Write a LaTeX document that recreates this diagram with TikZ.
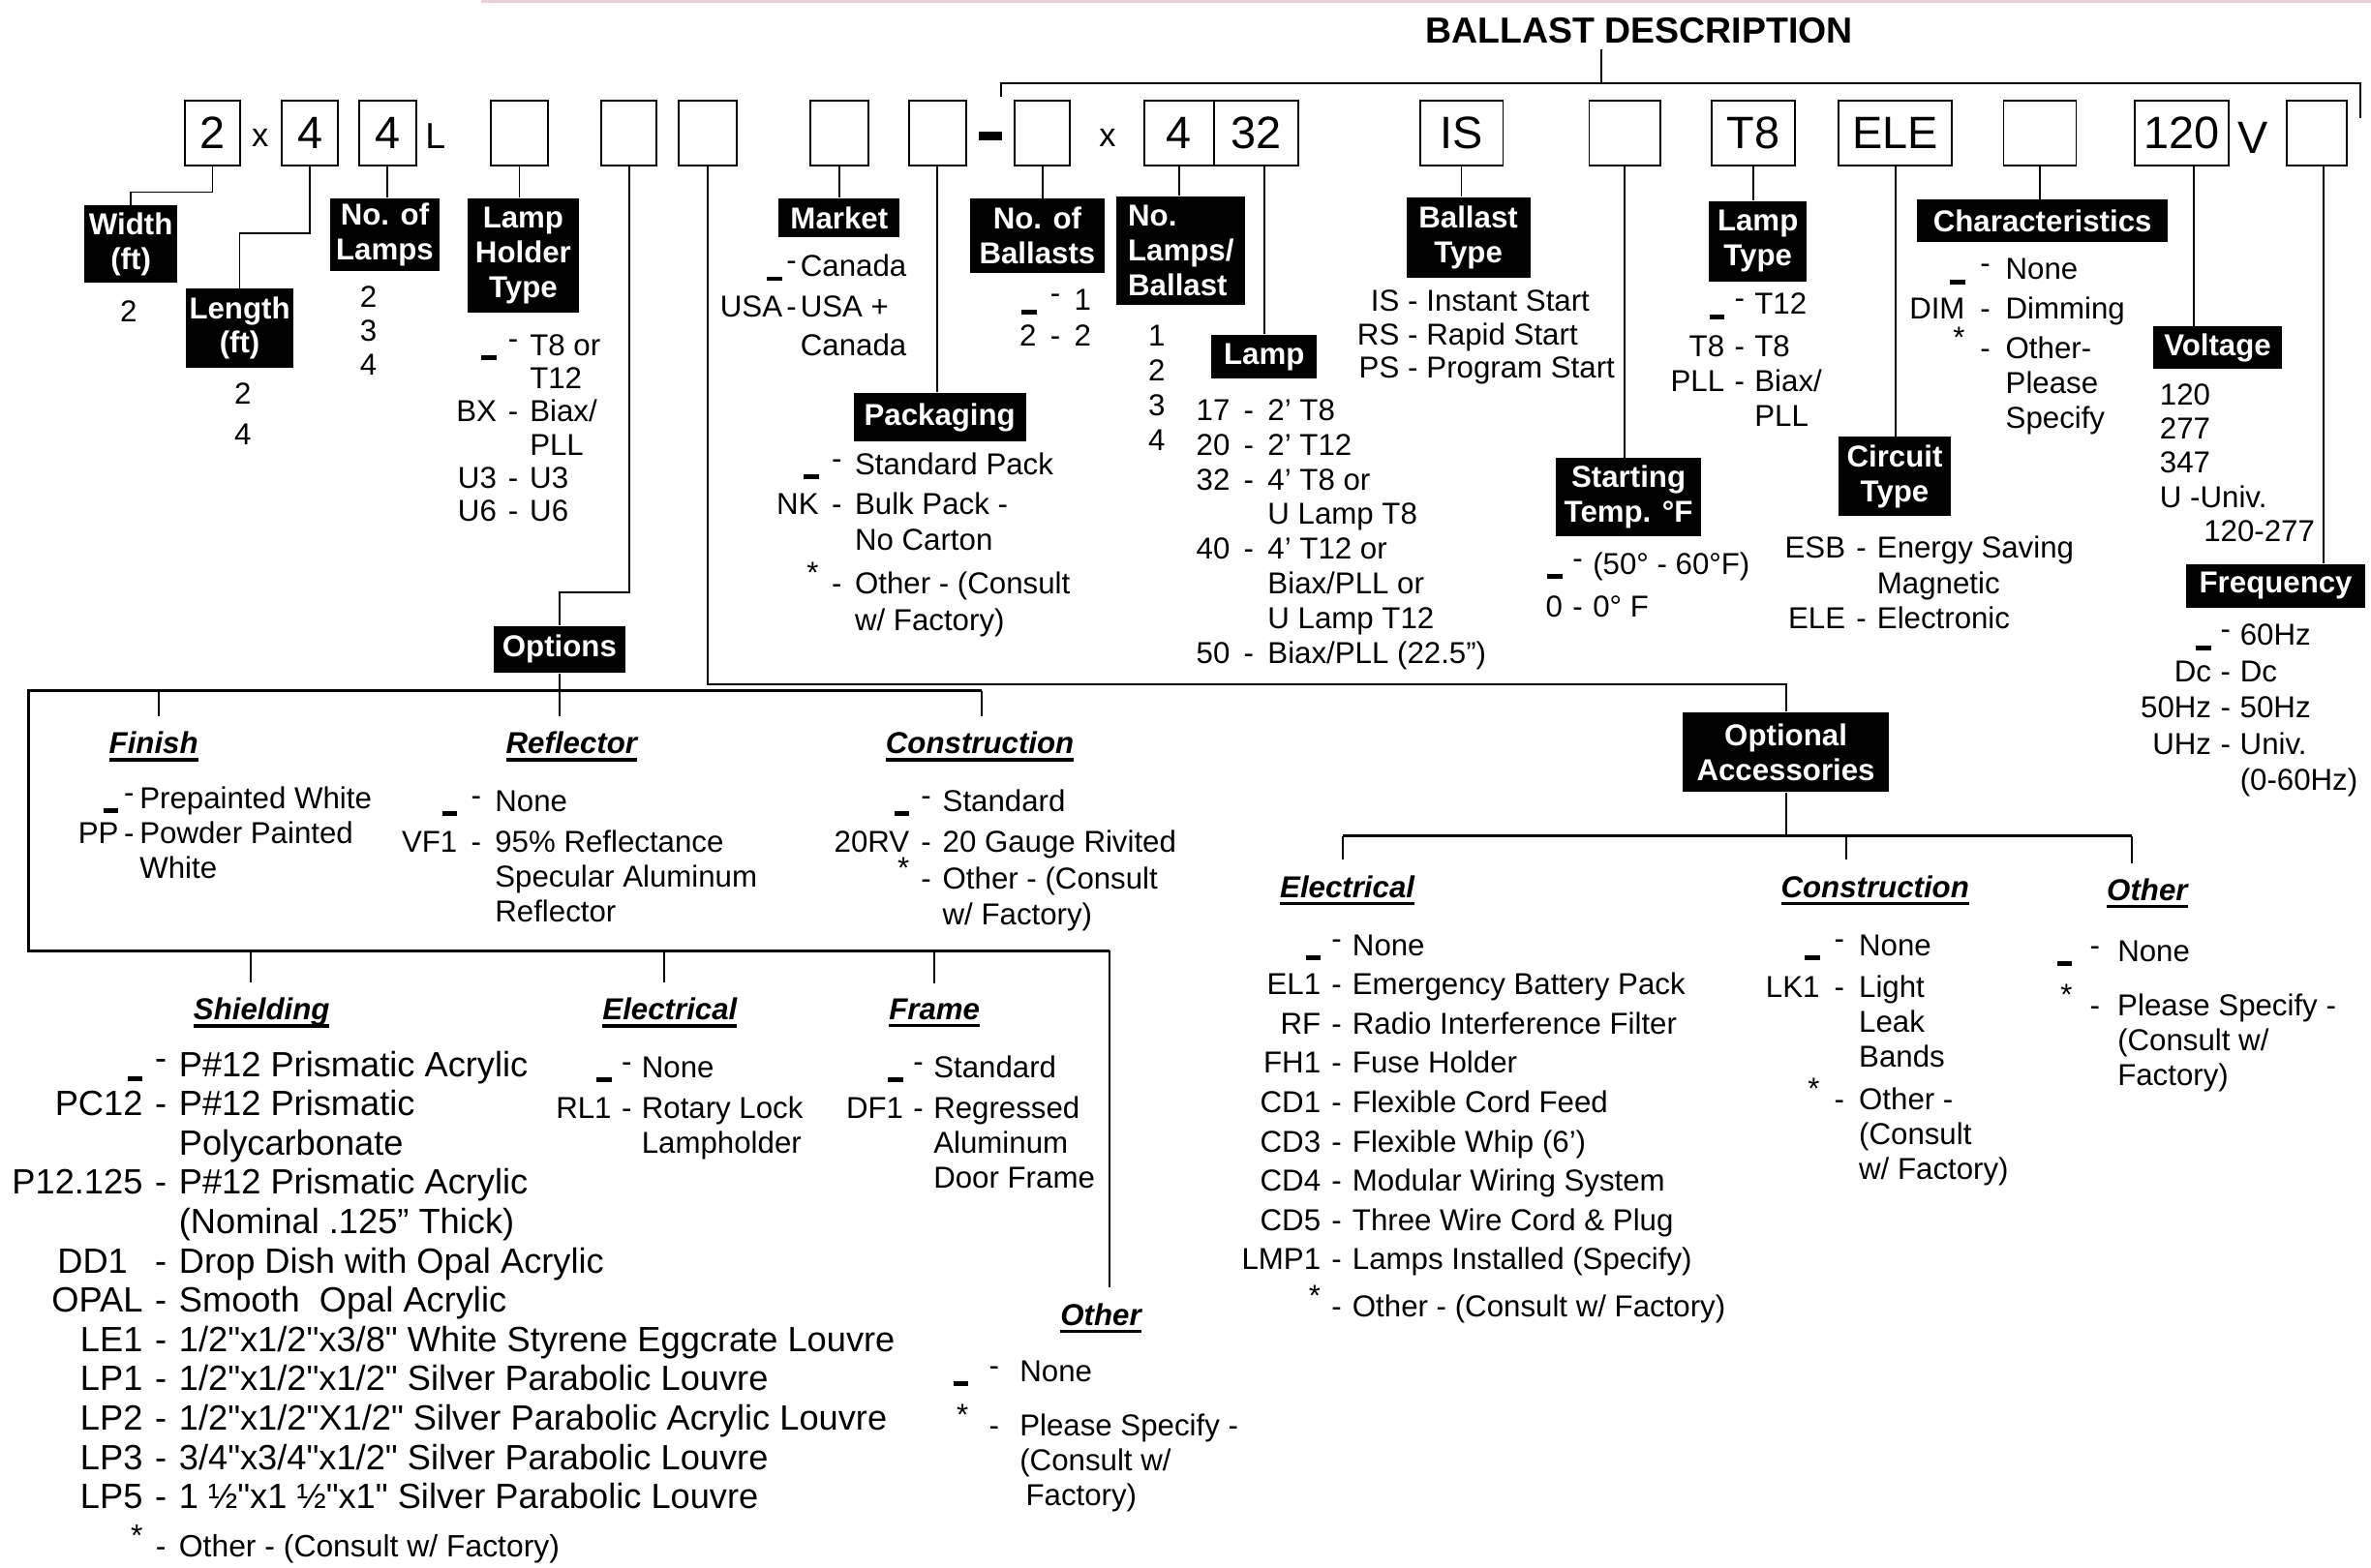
\documentclass[tikz,border=0pt]{standalone}
\usepackage{fontspec}
\setmainfont{Liberation Sans}[Ligatures=TeXOff]
\usetikzlibrary{positioning, calc}
\tikzset{>=latex}
\definecolor{pinkline}{RGB}{240,205,220}

\newlength{\dashw}
\newcommand{\blnk}{\rule[-1.5pt]{5pt}{1.6pt}}
\newcommand{\itm}[2]{\llap{#1\makebox[\dashw]{-}}#2}
\newcommand{\bitm}[1]{\llap{\blnk\makebox[\dashw]{\raisebox{2pt}{-}}}#1}
\newcommand{\sitm}[1]{\llap{\smash{\raisebox{3.5pt}{*}}\makebox[\dashw]{-}}#1}
\newcommand{\clist}[4][10]{\fontsize{#1}{#2}\selectfont\setlength{\dashw}{#3}\begin{tabular}[t]{@{}l@{}}#4\end{tabular}}
\newcommand{\ulthick}[1]{\setbox0=\hbox{#1}\rlap{\rule[-2.5pt]{\wd0}{1.1pt}}\box0}

\begin{document}
\begin{tikzpicture}
    [
        x=0.5pt, y=-0.5pt,
        codebox/.style={draw, line width=0.6pt, minimum height=21.5pt, inner sep=0pt, font=\fontsize{15}{15}\selectfont},
        tagbox/.style={fill=black, text=white, inner sep=1pt, align=center, font=\fontsize{10}{11.5}\selectfont\bfseries},
        hdr/.style={inner sep=5pt, font=\fontsize{10}{12}\selectfont\bfseries\itshape},
        vals/.style={anchor=base west, inner sep=0pt},
        nums/.style={anchor=base, inner sep=0pt},
        conn/.style={line width=0.6pt},
        bar/.style={line width=0.9pt},
    ]
  \useasboundingbox (0,0) rectangle (1568,1037);
  \draw[pinkline, line width=1.2pt] (318,1) -- (1568,1);

  % title and top bar
  \node[inner sep=2pt, font=\fontsize{12}{12}\selectfont\bfseries] (title) at (1084,20) {BALLAST DESCRIPTION};
  \coordinate (tst) at (1059,55);
  \coordinate (tbL) at (662,64);
  \coordinate (tbR) at (1561,78);

  % code boxes
  \node[codebox, minimum width=18.3pt] (bwid) at (140.5,88) {2};
  \node[font=\fontsize{11}{11}\selectfont] (xa) at (172,91) {x};
  \node[codebox, minimum width=18.5pt] (blen) at (205,88) {4};
  \node[codebox, minimum width=19pt] (bnum) at (256.3,88) {4};
  \node[font=\fontsize{12}{12}\selectfont] (lL) at (288,90) {L};
  \node[codebox, minimum width=18.8pt] (bhold) at (343.5,88) {};
  \node[codebox, minimum width=18.2pt] (bopt) at (416,88) {};
  \node[codebox, minimum width=19.2pt] (bacc) at (468,88) {};
  \node[codebox, minimum width=19.2pt] (bmkt) at (555.3,88) {};
  \node[codebox, minimum width=19pt] (bpack) at (620,88) {};
  \node[fill, minimum width=7.5pt, minimum height=2.8pt, inner sep=0pt] (dsh) at (655,90) {};
  \node[codebox, minimum width=18.3pt] (bbal) at (689.3,88) {};
  \node[font=\fontsize{11}{11}\selectfont] (xb) at (732.5,91) {x};
  \node[codebox, minimum width=22.8pt] (bperb) at (779.8,88) {4};
  \node[codebox, minimum width=28pt] (blamp) at (830.6,88) {32};
  \node[codebox, minimum width=27.5pt] (bbt) at (966.5,88) {IS};
  \node[codebox, minimum width=23.5pt] (bst) at (1074.5,88) {};
  \node[codebox, minimum width=27.5pt] (blt) at (1159.5,88) {T8};
  \node[codebox, minimum width=37.5pt] (bct) at (1253.5,88) {ELE};
  \node[codebox, minimum width=24pt] (bch) at (1349,88) {};
  \node[codebox, minimum width=31pt] (bvolt) at (1443,88) {120};
  \node[font=\fontsize{15}{15}\selectfont] (lV) at (1490,91) {V};
  \node[codebox, minimum width=20pt] (bfreq) at (1532,88) {};

  % black tags
  \node[tagbox, minimum width=30.5pt, minimum height=25.5pt] (lwid) at (86.5,161.5) {Width\\(ft)};
  \node[tagbox, minimum width=35.5pt, minimum height=26pt] (llen) at (158.5,217) {Length\\(ft)};
  \node[tagbox, minimum width=36pt, minimum height=24pt] (lnum) at (254.5,155) {No. of\\Lamps};
  \node[tagbox, minimum width=37pt, minimum height=38pt] (lhold) at (346,169) {Lamp\\Holder\\Type};
  \node[tagbox, minimum width=43.5pt, minimum height=15.5pt] (lopt) at (370,429.5) {Options};
  \node[tagbox, minimum width=40pt, minimum height=13pt] (lmkt) at (555,144) {Market};
  \node[tagbox, minimum width=57pt, minimum height=16pt] (lpack) at (621.5,276) {Packaging};
  \node[tagbox, minimum width=44.5pt, minimum height=24.5pt] (lbal) at (686,156) {No. of\\Ballasts};
  \node[tagbox, minimum width=42.5pt, minimum height=36pt, align=left] (lperb) at (781,166) {No.\\Lamps/\\Ballast};
  \node[tagbox, minimum width=35pt, minimum height=14.5pt] (llamp) at (836,236) {Lamp};
  \node[tagbox, minimum width=41pt, minimum height=26.5pt] (lbt) at (971,157) {Ballast\\Type};
  \node[tagbox, minimum width=48pt, minimum height=26pt] (lst) at (1077,329) {Starting\\Temp. °F};
  \node[tagbox, minimum width=32.5pt, minimum height=26.5pt] (llt) at (1162.5,159.5) {Lamp\\Type};
  \node[tagbox, minimum width=37pt, minimum height=26pt] (lct) at (1253,315) {Circuit\\Type};
  \node[tagbox, minimum width=83pt, minimum height=14pt] (lch) at (1350.75,146) {Characteristics};
  \node[tagbox, minimum width=42.5pt, minimum height=14pt] (lvolt) at (1466.5,230) {Voltage};
  \node[tagbox, minimum width=59pt, minimum height=14.5pt] (lfreq) at (1505,387.5) {Frequency};
  \node[tagbox, minimum width=68pt, minimum height=26.5pt] (lacc) at (1181,497.5) {Optional\\Accessories};

  % headings
  \node[hdr] (hfin) at (101.6,494) {\ulthick{Finish}};
  \node[hdr] (hrefl) at (378,494) {\ulthick{Reflector}};
  \node[hdr] (hcons) at (648,494) {\ulthick{Construction}};
  \node[hdr] (hshd) at (173,670) {\ulthick{Shielding}};
  \node[hdr] (helec) at (443,670) {\ulthick{Electrical}};
  \node[hdr] (hfrm) at (618,670) {\ulthick{Frame}};
  \node[hdr] (hoth) at (728,872) {\ulthick{Other}};
  \node[hdr] (haelec) at (891,589) {\ulthick{Electrical}};
  \node[hdr] (hacon) at (1240,589) {\ulthick{Construction}};
  \node[hdr] (haoth) at (1420,591) {\ulthick{Other}};

  % value lists
  \node[nums] (vwid) at (85,213) {2};
  \node[nums] (vlen) at (160.6,267.6) {\clist{13.25pt}{0pt}{2\\4}};
  \node[nums] (vnum) at (243.7,203.6) {\clist{11.2pt}{0pt}{2\\3\\4}};
  \node[vals] (vhold) at (350,235) {\clist{11pt}{11pt}{\bitm{T8 or}\\T12\\\itm{BX}{Biax/}\\PLL\\\itm{U3}{U3}\\\itm{U6}{U6}}};
  \node[vals] (vmkt) at (529,183) {\clist{12.5pt}{6pt}{\bitm{Canada}\\[1pt]\itm{USA}{USA +}\\Canada}};
  \node[vals] (vbal) at (710,205) {\clist{12pt}{12.5pt}{\bitm{1}\\\itm{2}{2}}};
  \node[nums] (vperb) at (765,229) {\clist{11.5pt}{0pt}{1\\2\\3\\4}};
  \node[vals] (vlamp) at (838,278) {\clist{11.5pt}{12.5pt}{\itm{17}{2’ T8}\\\itm{20}{2’ T12}\\\itm{32}{4’ T8 or}\\U Lamp T8\\\itm{40}{4’ T12 or}\\Biax/PLL or\\U Lamp T12\\\itm{50}{Biax/PLL (22.5”)}}};
  \node[vals] (vpack) at (565,314) {\clist{12pt}{12pt}{\bitm{Standard Pack}\\[1pt]\itm{NK}{Bulk Pack -}\\No Carton\\[2.5pt]\sitm{Other - (Consult}\\w/ Factory)}};
  \node[vals] (vbt) at (943,206) {\clist{11pt}{9pt}{\itm{IS}{Instant Start}\\\itm{RS}{Rapid Start}\\\itm{PS}{Program Start}}};
  \node[vals] (vst) at (1053,380) {\clist{14pt}{10pt}{\bitm{(50° - 60°F)}\\\itm{0}{0° F}}};
  \node[vals] (vlt) at (1160,208) {\clist{11.5pt}{10pt}{\bitm{T12}\\[2.5pt]\itm{T8}{T8}\\\itm{PLL}{Biax/}\\PLL}};
  \node[vals] (vch) at (1326,185) {\clist{11.5pt}{13.5pt}{\bitm{None}\\[1.5pt]\itm{DIM}{Dimming}\\[1.5pt]\sitm{Other-}\\Please\\Specify}};
  \node[vals] (vct) at (1241,369) {\clist{11.75pt}{10.5pt}{\itm{ESB}{Energy Saving}\\Magnetic\\\itm{ELE}{Electronic}}};
  \node[vals] (vvolt) at (1428,268) {\clist{11.25pt}{0pt}{120\\277\\347\\U -Univ.\\\hspace*{14.5pt}120-277}};
  \node[vals] (vfreq) at (1481,427) {\clist{12pt}{9.5pt}{\bitm{60Hz}\\\itm{Dc}{Dc}\\\itm{50Hz}{50Hz}\\\itm{UHz}{Univ.}\\(0-60Hz)}};

  \node[vals] (vfin) at (92,535) {\clist{11.5pt}{7pt}{\bitm{Prepainted White}\\\itm{PP}{Powder Painted}\\White}};
  \node[vals] (vrefl) at (327,537) {\clist{11.5pt}{12.5pt}{\bitm{None}\\[2pt]\itm{VF1}{95\% Reflectance}\\Specular Aluminum\\Reflector}};
  \node[vals] (vcons) at (623,537) {\clist{12pt}{11pt}{\bitm{Standard}\\[1.5pt]\itm{20RV}{20 Gauge Rivited}\\\sitm{Other - (Consult}\\w/ Factory)}};
  \node[vals] (vshd) at (118,712) {\clist[11.6]{13pt}{12pt}{\bitm{P\#12 Prismatic Acrylic}\\\itm{PC12}{P\#12 Prismatic}\\Polycarbonate\\\itm{P12.125}{P\#12 Prismatic Acrylic}\\(Nominal .125” Thick)\\\itm{DD1\hspace{5pt}}{Drop Dish with Opal Acrylic}\\\itm{OPAL}{Smooth\ \ Opal Acrylic}\\\itm{LE1}{1/2"x1/2"x3/8" White Styrene Eggcrate Louvre}\\\itm{LP1}{1/2"x1/2"x1/2" Silver Parabolic Louvre}\\\itm{LP2}{1/2"x1/2"X1/2" Silver Parabolic Acrylic Louvre}\\\itm{LP3}{3/4"x3/4"x1/2" Silver Parabolic Louvre}\\\itm{LP5}{1 ½"x1 ½"x1" Silver Parabolic Louvre}\\[3pt]{\fontsize{10.2}{11}\selectfont\sitm{Other - (Consult w/ Factory)}}}};
  \node[vals] (velec) at (424,713) {\clist{11.5pt}{10pt}{\bitm{None}\\[2pt]\itm{RL1}{Rotary Lock}\\Lampholder}};
  \node[vals] (vfrm) at (617,713) {\clist{11.5pt}{10pt}{\bitm{Standard}\\[2pt]\itm{DF1}{Regressed}\\Aluminum\\Door Frame}};
  \node[vals] (voth) at (674,914) {\clist{11.5pt}{17pt}{\bitm{None}\\[6.5pt]\sitm{Please Specify -}\\(Consult w/\\\hspace*{2pt}Factory)}};
  \node[vals] (vaelec) at (894,632) {\clist{13pt}{10.5pt}{\bitm{None}\\\itm{EL1}{Emergency Battery Pack}\\\itm{RF}{Radio Interference Filter}\\\itm{FH1}{Fuse Holder}\\\itm{CD1}{Flexible Cord Feed}\\\itm{CD3}{Flexible Whip (6’)}\\\itm{CD4}{Modular Wiring System}\\\itm{CD5}{Three Wire Cord \& Plug}\\\itm{LMP1}{Lamps Installed (Specify)}\\[2.5pt]\sitm{Other - (Consult w/ Factory)}}};
  \node[vals] (vacon) at (1229,632) {\clist{11.5pt}{13pt}{\bitm{None}\\[2.5pt]\itm{LK1}{Light}\\Leak\\Bands\\[2.5pt]\sitm{Other -}\\(Consult\\w/ Factory)}};
  \node[vals] (vaoth) at (1400,636) {\clist{11.5pt}{15pt}{\bitm{None}\\[6.5pt]\sitm{Please Specify -}\\(Consult w/\\Factory)}};

  % branch points
  \coordinate (optL) at (19,457);
  \coordinate (optR) at (649,457);
  \coordinate (optBL) at (19,629);
  \coordinate (optBR) at (734,629);
  \coordinate (tfin) at (105,457);
  \coordinate (tshd) at (166,629);
  \coordinate (telec) at (439,629);
  \coordinate (tfrm) at (618,629);
  \coordinate (accL) at (888,553);
  \coordinate (accR) at (1410,553);
  \coordinate (tacon) at (1221,553);
  \coordinate (vstem) at ([xshift=4pt]bvolt.south);
  \coordinate (fstem) at ([xshift=2.3pt]bfreq.south);

  % connectors
  \draw[conn] (tst) -- (tst |- title.south);
  \draw[conn] (tbL) -- (tbL |- tst) -- (tbR |- tst) -- (tbR);
  \draw[conn] (bwid.south) -- ++(0,17) -| (lwid.north);
  \draw[conn] (blen.south) -- ++(0,44) -| (llen.north);
  \draw[conn] (bnum.south) -- (bnum.south |- lnum.north);
  \draw[conn] (bhold.south) -- (bhold.south |- lhold.north);
  \draw[conn] (bopt.south) -- ++(0,282) -| (lopt.north);
  \draw[conn] (bacc.south) -- ++(0,342.5) -| (lacc.north);
  \draw[conn] (bmkt.south) -- (bmkt.south |- lmkt.north);
  \draw[conn] (bpack.south) -- (bpack.south |- lpack.north);
  \draw[conn] (bbal.south) -- (bbal.south |- lbal.north);
  \draw[conn] (bperb.south) -- (bperb.south |- lperb.north);
  \draw[conn] (llamp.north |- blamp.south) -- (llamp.north);
  \draw[conn] (bbt.south) -- (bbt.south |- lbt.north);
  \draw[conn] (bst.south) -- (bst.south |- lst.north);
  \draw[conn] (blt.south) -- (blt.south |- llt.north);
  \draw[conn] (bct.south) -- (bct.south |- lct.north);
  \draw[conn] (bch.south) -- (bch.south |- lch.north);
  \draw[conn] (vstem) -- (vstem |- lvolt.north);
  \draw[conn] (fstem) -- (fstem |- lfreq.north);

  % options tree
  \draw[bar] (optR) -- (optL) -- (optBL) -- (optBR);
  \draw[conn] (lopt.south) -- (lopt.south |- hrefl.north);
  \draw[conn] (tfin) -- (tfin |- hfin.north);
  \draw[conn] (optR) -- (optR |- hcons.north);
  \draw[conn] (tshd) -- (tshd |- hshd.north);
  \draw[conn] (telec) -- (telec |- helec.north);
  \draw[conn] (tfrm) -- (tfrm |- hfrm.north);
  \draw[conn] (optBR) -- (optBR |- hoth.north);

  % accessories tree
  \draw[conn] (lacc.south) -- (lacc.south |- accL);
  \draw[bar] (accL) -- (accR);
  \draw[conn] (accL) -- (accL |- haelec.north);
  \draw[conn] (tacon) -- (tacon |- hacon.north);
  \draw[conn] (accR) -- (accR |- haoth.north);
\end{tikzpicture}
\end{document}
